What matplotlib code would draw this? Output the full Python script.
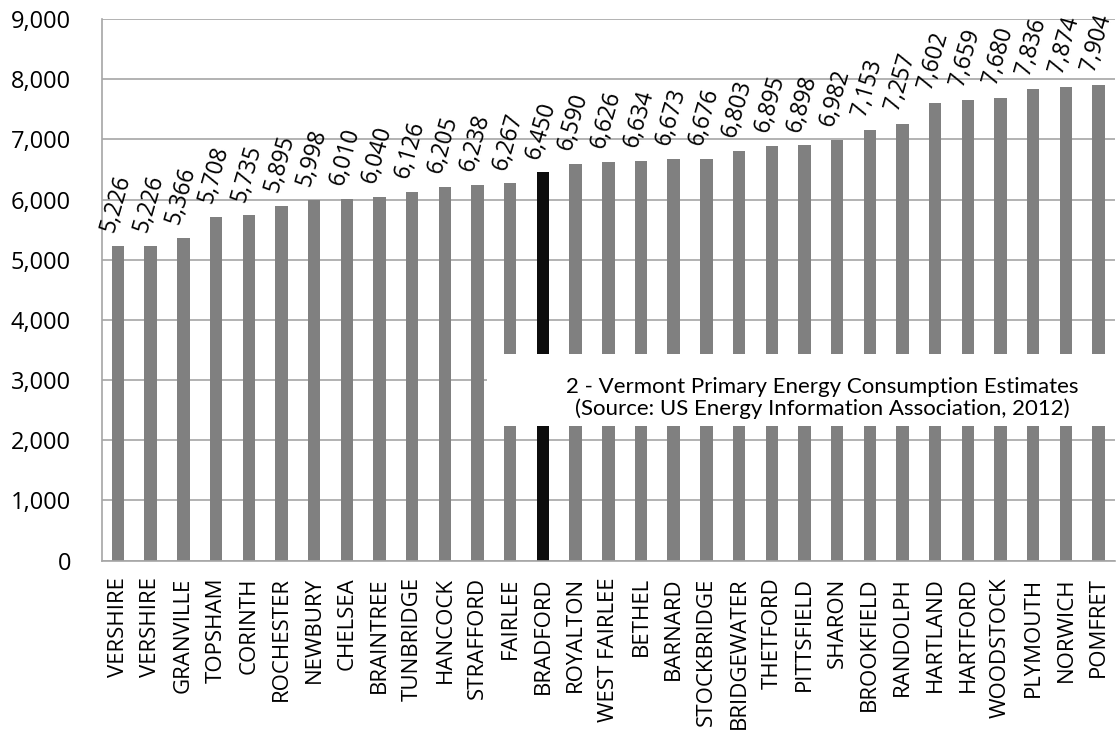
import matplotlib

matplotlib.use("Agg")
import matplotlib.pyplot as plt
from matplotlib.patches import Rectangle
from matplotlib.ticker import FuncFormatter, MultipleLocator

towns = ["VERSHIRE", "VERSHIRE", "GRANVILLE", "TOPSHAM", "CORINTH", "ROCHESTER",
         "NEWBURY", "CHELSEA", "BRAINTREE", "TUNBRIDGE", "HANCOCK", "STRAFFORD",
         "FAIRLEE", "BRADFORD", "ROYALTON", "WEST FAIRLEE", "BETHEL", "BARNARD",
         "STOCKBRIDGE", "BRIDGEWATER", "THETFORD", "PITTSFIELD", "SHARON",
         "BROOKFIELD", "RANDOLPH", "HARTLAND", "HARTFORD", "WOODSTOCK",
         "PLYMOUTH", "NORWICH", "POMFRET"]
energy = [5226, 5226, 5366, 5708, 5735, 5895, 5998, 6010, 6040, 6126, 6205,
          6238, 6267, 6450, 6590, 6626, 6634, 6673, 6676, 6803, 6895, 6898,
          6982, 7153, 7257, 7602, 7659, 7680, 7836, 7874, 7904]
highlight = "BRADFORD"
title_lines = ["2 - Vermont Primary Energy Consumption Estimates",
               "(Source: US Energy Information Association, 2012)"]

plt.rcParams["font.family"] = ["Open Sans", "DejaVu Sans"]

fig = plt.figure(figsize=(11.16, 7.44), dpi=100)
ax = fig.add_axes([0.0911, 0.2464, 0.908, 0.7281])

x = list(range(len(towns)))
colors = ["#0d0d0d" if t == highlight else "#808080" for t in towns]
ax.bar(x, energy, width=0.38, color=colors, zorder=2)

# rotated value labels above each bar
for xi, v in zip(x, energy):
    ax.annotate(f"{v:,}", (xi, v), xytext=(-1.5, 8), textcoords="offset points",
                ha="center", va="bottom", rotation=74, fontsize=16.5,
                annotation_clip=False)

ax.set_xlim(-0.5, len(towns) - 0.5)
ax.set_ylim(0, 9000)
ax.yaxis.set_major_locator(MultipleLocator(1000))
ax.yaxis.set_major_formatter(FuncFormatter(lambda v, _: f"{v:,.0f}"))
ax.grid(axis="y", color="#a6a6a6", lw=1.2, zorder=1)
ax.set_axisbelow(True)

ax.set_xticks(x)
ax.set_xticklabels(towns, rotation=90, fontsize=16)
ax.tick_params(axis="x", length=0, pad=12)
ax.tick_params(axis="y", length=0, pad=22, labelsize=17)

for s in ["top", "right"]:
    ax.spines[s].set_visible(False)
for s in ["left", "bottom"]:
    ax.spines[s].set_color("#a6a6a6")
    ax.spines[s].set_linewidth(1.2)

# white title box sitting over the bars
trans = ax.get_yaxis_transform()
ax.add_patch(Rectangle((0.380, 2241), 0.625, 3439 - 2241, transform=trans,
                       facecolor="white", edgecolor="none", zorder=3,
                       clip_on=False))
ax.text(0.711, 2700, "\n".join(title_lines), transform=trans, ha="center",
        va="center", fontsize=16, family=["Lato", "DejaVu Sans"], zorder=4,
        linespacing=1.1)

fig.savefig("out.png", dpi=100)
